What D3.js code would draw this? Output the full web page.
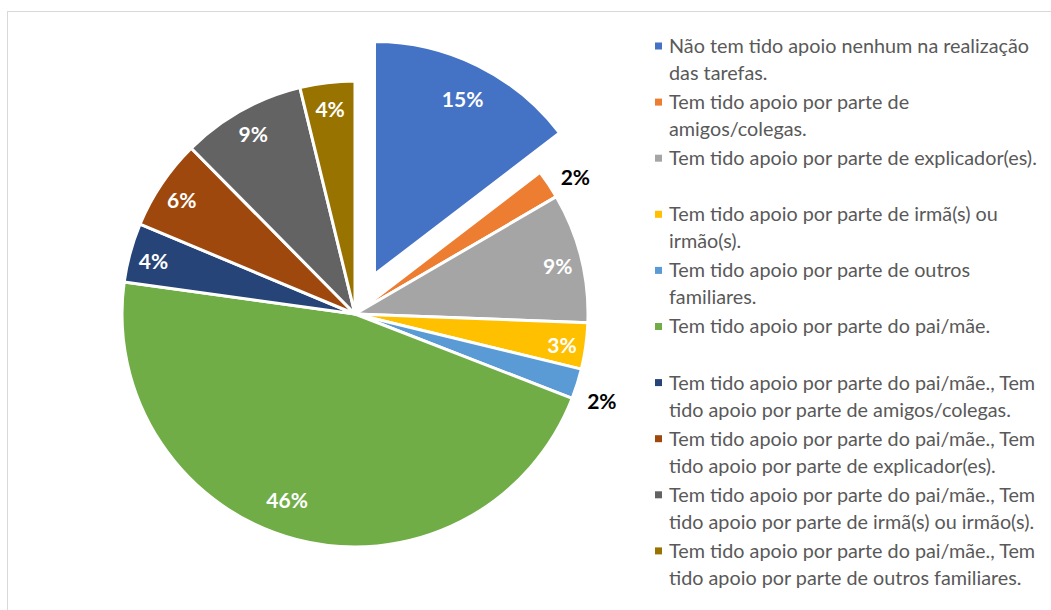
<!DOCTYPE html>
<html>
<head>
<meta charset="utf-8">
<script src="https://cdn.jsdelivr.net/npm/d3@7"></script>
<style>
  body { margin: 0; background: #fff; }
  svg { display: block; }
</style>
</head>
<body>
<svg id="chart"></svg>
<script>
var width = 1051;
var height = 610;

// legend text, split the way the original wraps it
var categories = [
    ["Não tem tido apoio nenhum na realização", "das tarefas."],
    ["Tem tido apoio por parte de", "amigos/colegas."],
    ["Tem tido apoio por parte de explicador(es)."],
    ["Tem tido apoio por parte de irmã(s) ou", "irmão(s)."],
    ["Tem tido apoio por parte de outros", "familiares."],
    ["Tem tido apoio por parte do pai/mãe."],
    ["Tem tido apoio por parte do pai/mãe., Tem", "tido apoio por parte de amigos/colegas."],
    ["Tem tido apoio por parte do pai/mãe., Tem", "tido apoio por parte de explicador(es)."],
    ["Tem tido apoio por parte do pai/mãe., Tem", "tido apoio por parte de irmã(s) ou irmão(s)."],
    ["Tem tido apoio por parte do pai/mãe., Tem", "tido apoio por parte de outros familiares."]
];

// share of answers (%)
var values = [14.6, 2.0, 9.0, 3.2, 2.1, 46.3, 4.1, 6.3, 8.6, 3.8];

var colors = ["#4472C4", "#ED7D31", "#A5A5A5", "#FFC000", "#5B9BD5",
              "#70AD47", "#264478", "#9E480E", "#636363", "#997300"];

var cx = 355, cy = 314;
var radius = 233;
var explodeIndex = 0;     // the blue slice is pulled out
var explodeDist = 44;

var svg = d3.select("#chart")
    .attr("width", width)
    .attr("height", height);

// chart area border
svg.append("rect")
    .attr("x", 7.5)
    .attr("y", 11.5)
    .attr("width", width + 10)
    .attr("height", height + 10)
    .attr("fill", "none")
    .attr("stroke", "#d9d9d9")
    .attr("stroke-width", 1);

var total = d3.sum(values);
var pie = d3.pie().sort(null).value(d => d);
var arcs = pie(values);

var arc = d3.arc().innerRadius(0).outerRadius(radius);

function offset(d, i) {
    if (i !== explodeIndex) return [0, 0];
    var a = (d.startAngle + d.endAngle) / 2;
    return [Math.sin(a) * explodeDist, -Math.cos(a) * explodeDist];
}

var g = svg.append("g").attr("transform", "translate(" + cx + "," + cy + ")");

g.selectAll("path.slice")
    .data(arcs)
    .enter()
    .append("path")
        .attr("class", "slice")
        .attr("d", arc)
        .attr("transform", (d, i) => "translate(" + offset(d, i) + ")")
        .attr("fill", (d, i) => colors[i])
        .attr("stroke", "#fff")
        .attr("stroke-width", 3)
        .attr("stroke-linejoin", "round");

// data labels: small slices go outside in black, the rest inside in white
var fmt = d3.format(".0%");
g.selectAll("text.lbl")
    .data(arcs)
    .enter()
    .append("text")
        .attr("class", "lbl")
        .attr("transform", function(d, i) {
            var a = (d.startAngle + d.endAngle) / 2;
            var share = d.value / total;
            var r;
            if (share < 0.025) {
                // outside labels, nudged a bit past the middle of the slice
                a = d.startAngle + (d.endAngle - d.startAngle) * 0.7;
                r = radius + 28;
            } else if (share > 0.3) {
                a = a + 0.1;
                r = radius * 0.84;
            } else if (i === explodeIndex) {
                r = radius - 34;
            } else {
                r = radius - 24;
            }
            var o = offset(d, i);
            return "translate(" + (o[0] + Math.sin(a) * r) + "," + (o[1] - Math.cos(a) * r) + ")";
        })
        .attr("text-anchor", "middle")
        .attr("dy", "0.5em")
        .attr("font-family", "Lato, 'Open Sans', sans-serif")
        .attr("font-weight", "bold")
        .attr("font-size", "21px")
        .attr("fill", d => (d.value / total < 0.025 ? "#000" : "#fff"))
        .text(d => fmt(d.value / total));

// legend
var legendX = 655;
var legendY = 46;
var itemStep = 56.1;
var lineStep = 27;

var legend = svg.append("g").attr("transform", "translate(" + legendX + "," + legendY + ")");

var items = legend.selectAll("g.item")
    .data(categories)
    .enter()
    .append("g")
        .attr("class", "item")
        .attr("transform", (d, i) => "translate(0," + (i * itemStep) + ")");

items.append("rect")
    .attr("x", 0)
    .attr("y", -3.5)
    .attr("width", 7)
    .attr("height", 7)
    .attr("fill", (d, i) => colors[i]);

items.each(function(lines) {
    var t = d3.select(this).append("text")
        .attr("font-family", "Lato, 'Open Sans', sans-serif")
        .attr("font-size", "19.8px")
        .attr("fill", "#595959");
    lines.forEach(function(line, k) {
        t.append("tspan")
            .attr("x", 14)
            .attr("y", k * lineStep)
            .attr("dy", "0.35em")
            .text(line);
    });
});
</script>
</body>
</html>
